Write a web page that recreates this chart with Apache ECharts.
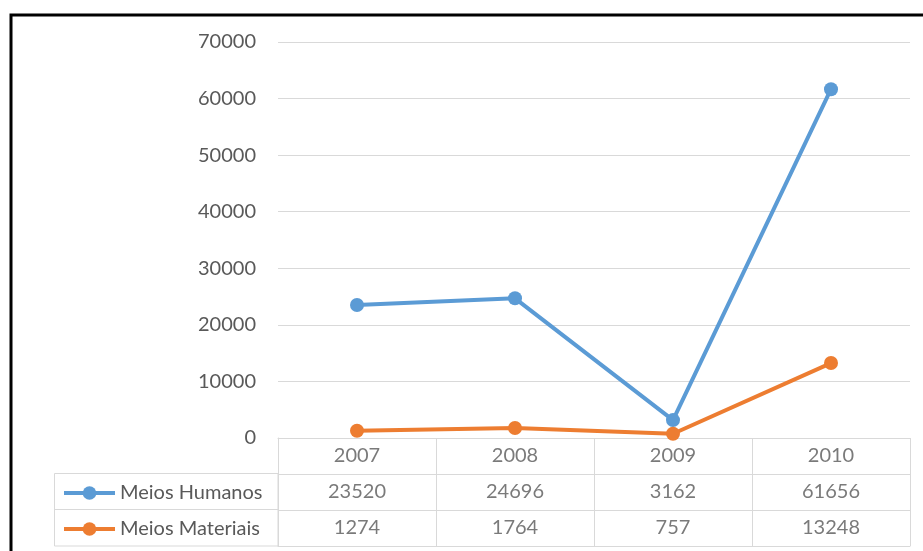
<!DOCTYPE html>
<html>
<head>
<meta charset="utf-8">
<script src="https://cdn.jsdelivr.net/npm/echarts@6/dist/echarts.min.js"></script>
<style>
html,body{margin:0;padding:0;background:#fff;}
#c{width:923px;height:551px;}
</style>
</head>
<body>
<div id="c"></div>
<script>
var years = ['2007', '2008', '2009', '2010'];
var seriesNames = ['Meios Humanos', 'Meios Materiais'];
var meiosHumanos = [23520, 24696, 3162, 61656];
var meiosMateriais = [1274, 1764, 757, 13248];
var yMin = 0, yMax = 70000, yStep = 10000;

var colors = ['#5B9BD5', '#ED7D31'];
var txt = '#595959';
var gridC = '#D9D9D9';
var FONT = 'Lato';

// table cells built from the data arrays
var tableRows = [years, meiosHumanos, meiosMateriais];
var tableData = [];
tableRows.forEach(function (row, r) {
  row.forEach(function (v, c) { tableData.push([c, r, String(v)]); });
});

var chart = echarts.init(document.getElementById('c'));
chart.setOption({
  animation: false,
  backgroundColor: '#fff',
  textStyle: { fontFamily: FONT },
  grid: [
    { left: 278, right: 13, top: 42, bottom: 113 },
    { left: 278, top: 438, width: 632, height: 108 }
  ],
  xAxis: [
    { gridIndex: 0, type: 'category', data: years, boundaryGap: true,
      axisLine: { show: true, lineStyle: { color: gridC, width: 1 } },
      axisTick: { show: false }, axisLabel: { show: false }, splitLine: { show: false } },
    { gridIndex: 1, type: 'category', data: years, boundaryGap: true,
      axisLine: { show: true, lineStyle: { color: gridC, width: 1 } },
      axisTick: { show: false }, axisLabel: { show: false },
      splitLine: { show: true, interval: 0, lineStyle: { color: gridC, width: 1 } } }
  ],
  yAxis: [
    { gridIndex: 0, type: 'value', min: yMin, max: yMax, interval: yStep,
      axisLine: { show: false }, axisTick: { show: false },
      axisLabel: { color: txt, fontSize: 20, margin: 22, fontFamily: FONT,
        formatter: function (v) { return String(v); } },
      splitLine: { lineStyle: { color: gridC, width: 1 } } },
    { gridIndex: 1, type: 'category', data: ['0', '1', '2'], inverse: true, boundaryGap: true,
      axisLine: { show: true, lineStyle: { color: gridC, width: 1 } },
      axisTick: { show: false }, axisLabel: { show: false },
      splitLine: { show: true, interval: 0, lineStyle: { color: gridC, width: 1 } } }
  ],
  legend: {
    orient: 'vertical', left: 62, top: 483, padding: 0, itemWidth: 51, itemHeight: 17, itemGap: 16,
    data: seriesNames,
    lineStyle: { width: 4 },
    textStyle: { color: txt, fontSize: 20, fontFamily: FONT }
  },
  graphic: [
    { type: 'rect', silent: true, z: 100, shape: { x: 11, y: 15, width: 940, height: 560 },
      style: { fill: 'none', stroke: '#000', lineWidth: 3 } },
    { type: 'rect', silent: true, shape: { x: 54.5, y: 473.5, width: 223.5, height: 72.5 },
      style: { fill: 'none', stroke: gridC, lineWidth: 1 } },
    { type: 'line', silent: true, shape: { x1: 54.5, y1: 509.5, x2: 278, y2: 509.5 },
      style: { stroke: gridC, lineWidth: 1 } }
  ],
  series: [
    { name: seriesNames[0], type: 'line', xAxisIndex: 0, yAxisIndex: 0, data: meiosHumanos,
      symbol: 'circle', symbolSize: 14, color: colors[0],
      lineStyle: { width: 4, color: colors[0] }, itemStyle: { color: colors[0] } },
    { name: seriesNames[1], type: 'line', xAxisIndex: 0, yAxisIndex: 0, data: meiosMateriais,
      symbol: 'circle', symbolSize: 14, color: colors[1],
      lineStyle: { width: 4, color: colors[1] }, itemStyle: { color: colors[1] } },
    { name: 'table', type: 'scatter', xAxisIndex: 1, yAxisIndex: 1, data: tableData,
      symbolSize: 1, itemStyle: { color: 'rgba(0,0,0,0)' }, silent: true,
      label: { show: true, position: 'inside', color: txt, fontSize: 20, fontFamily: FONT,
        formatter: function (p) { return p.value[2]; } } }
  ]
});
</script>
</body>
</html>
